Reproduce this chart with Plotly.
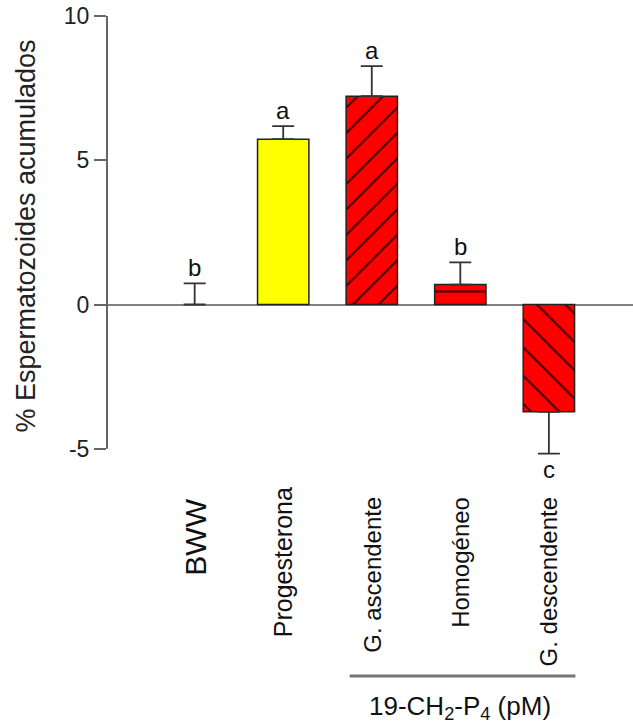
import plotly.graph_objects as go

categories = ["BWW", "Progesterona", "G. ascendente", "Homogéneo", "G. descendente"]
values = [0.0, 5.73, 7.22, 0.69, -3.72]
err_up = [0.73, 0.45, 1.04, 0.77, 0.0]
err_down = [0.0, 0.0, 0.0, 0.0, 1.45]
letters = ["b", "a", "a", "b", "c"]
fill_colors = ["#FFFFFF", "#FFFF00", "#FF0000", "#FF0000", "#FF0000"]
patterns = ["", "", "/", "-", "\\"]
pattern_sizes = [10, 10, 18, 19, 20]
outline_widths = [0, 1.5, 1.5, 1.5, 1.5]
y_ticks = [-5, 0, 5, 10]
y_range = [-5.25, 10]
group_label = "19-CH<sub>2</sub>-P<sub>4</sub> (pM)"
y_title = "% Espermatozoides acumulados"

FONT = "Liberation Sans, Arial, sans-serif"

fig = go.Figure()
for i, c in enumerate(categories):
    pat = dict(shape=patterns[i], size=pattern_sizes[i], solidity=0.11,
               fillmode="replace", bgcolor=fill_colors[i], fgcolor="#2a0000", fgopacity=0.9) \
        if patterns[i] else None
    marker = dict(color=fill_colors[i], line=dict(color="#222222", width=outline_widths[i]))
    if pat:
        marker["pattern"] = pat
    fig.add_trace(go.Bar(
        x=[i], y=[values[i]], width=0.58,
        marker=marker,
        error_y=dict(type="data", symmetric=False, array=[err_up[i]], arrayminus=[err_down[i]],
                     color="#333333", thickness=1.8, width=11),
        showlegend=False, name=c,
    ))

annotations = []
for i, (v, eu, ed, L) in enumerate(zip(values, err_up, err_down, letters)):
    if v >= 0:
        annotations.append(dict(x=i, y=v + eu, xref="x", yref="y", text=L, showarrow=False,
                                yanchor="bottom", yshift=0, font=dict(family=FONT, size=24, color="#111")))
    else:
        annotations.append(dict(x=i, y=v - ed, xref="x", yref="y", text=L, showarrow=False,
                                yanchor="top", yshift=0, font=dict(family=FONT, size=24, color="#111")))

for i, c in enumerate(categories):
    if i == 0:
        annotations.append(dict(x=i, y=0, xref="x", yref="paper", text=c, showarrow=False,
                                textangle=-90, yanchor="middle", yshift=-81,
                                font=dict(family=FONT, size=30, color="#111")))
    else:
        annotations.append(dict(x=i, y=0, xref="x", yref="paper", text=c, showarrow=False,
                                textangle=-90, yanchor="top", yshift=-39 if i != 1 else -29,
                                font=dict(family=FONT, size=25 if i == 1 else 24, color="#111")))

annotations.append(dict(x=3, y=0, xref="x", yref="paper", text=group_label, showarrow=False,
                        yanchor="middle", yshift=-251, font=dict(family=FONT, size=26, color="#111")))

fig.update_layout(
    width=633, height=725,
    margin=dict(l=107, r=0, t=16, b=269),
    paper_bgcolor="white", plot_bgcolor="white",
    barmode="overlay",
    annotations=annotations,
    shapes=[
        dict(type="line", xref="x", yref="paper", x0=1.75, x1=4.3, y0=-0.5, y1=-0.5,
             line=dict(color="#777777", width=3)),
        dict(type="line", xref="paper", yref="y", x0=0, x1=0, y0=y_ticks[0], y1=y_ticks[-1],
             line=dict(color="#666666", width=2)),
    ],
    xaxis=dict(range=[-0.99, 4.95], showticklabels=False, showline=False, showgrid=False,
               zeroline=False, ticks=""),
    yaxis=dict(range=y_range, tickvals=y_ticks, ticktext=[str(t) for t in y_ticks],
               showline=False, ticks="outside", ticklen=12,
               tickwidth=2, tickcolor="#666666", showgrid=False,
               zeroline=True, zerolinecolor="#808080", zerolinewidth=2,
               tickfont=dict(family=FONT, size=23, color="#222"),
               title=dict(text=y_title, font=dict(family=FONT, size=27, color="#222"), standoff=20),
               automargin=False),
)

fig.write_html("out.html")
